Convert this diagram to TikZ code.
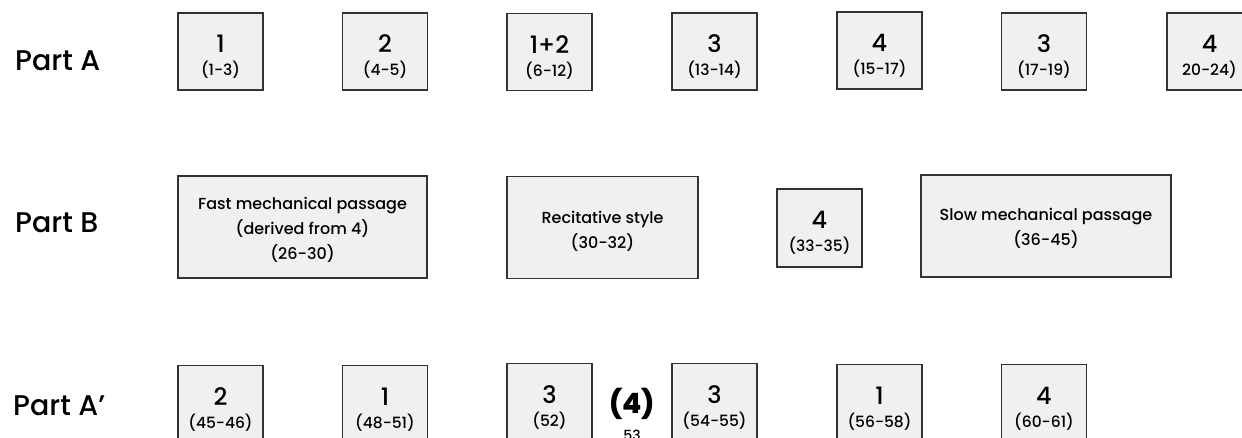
\documentclass[tikz,border=0pt]{standalone}
\usepackage{fontspec}
\IfFontExistsTF{Poppins Medium}{\setmainfont{Poppins Medium}}{\setmainfont{Poppins}}
\definecolor{boxfill}{HTML}{F0F0F0}
\definecolor{boxline}{HTML}{333333}
\tikzset{
  box/.style={draw=boxline, fill=boxfill, line width=1.4pt, rectangle, inner sep=0pt,
    minimum width=85pt, minimum height=77pt,
    font=\fontsize{15.5}{23}\selectfont},
  widebox/.style={box, minimum height=102pt, font=\fontsize{16}{25}\selectfont},
  partlabel/.style={anchor=base west, inner sep=0pt, font=\fontsize{28.5}{30}\selectfont},
}
\newcommand{\nm}[1]{{\fontsize{24}{24}\selectfont #1}}
% text block whose first baseline sits (minus #1) below the node centre
\newcommand{\tb}[2]{\raisebox{#1}[0pt][0pt]{\begin{tabular}[t]{@{}c@{}}#2\end{tabular}}}
\newcommand{\pair}[3][-1.5pt]{\tb{#1}{\nm{#2}\\#3}}
\begin{document}
\begin{tikzpicture}[x=1pt,y=-1pt]
\useasboundingbox (0,0) rectangle (1242,438);
\clip (0,0) rectangle (1242,438);
% labels
\node[partlabel] (pa) at (15,71) {Part A};
\node[partlabel] (pb) at (15,233) {Part B};
\node[partlabel] (pc) at (13,415) {Part A’};
% row A
\node[box] (a1) at (220.5,51.5) {\pair{1}{(1-3)}};
\node[box] (a2) at (385,51.5) {\pair{2}{(4-5)}};
\node[box] (a3) at (549.5,52) {\pair{1+2}{(6-12)}};
\node[box] (a4) at (714.5,51.5) {\pair{3}{(13-14)}};
\node[box] (a5) at (879.5,50.5) {\pair{4}{(15-17)}};
\node[box] (a6) at (1044,51.5) {\pair{3}{(17-19)}};
\node[box] (a7) at (1209.5,51.5) {\pair{4}{20-24)}};
% row B
\node[widebox, minimum width=249pt] (b1) at (302.5,227) {\tb{17pt}{Fast mechanical passage\\(derived from 4)\\(26-30)}};
\node[widebox, minimum width=191pt] (b2) at (602.5,227.5) {\tb{4pt}{Recitative style\\(30-32)}};
\node[box, minimum height=78pt] (b3) at (819.5,228) {\pair[-0.5pt]{4}{(33-35)}};
\node[widebox, minimum width=250pt] (b4) at (1046,226) {\tb{5.5pt}{Slow mechanical passage\\(36-45)}};
% row A'
\node[box] (c1) at (220.5,404) {\pair{2}{(45-46)}};
\node[box] (c2) at (385,404) {\pair{1}{(48-51)}};
\node[box] (c3) at (549.5,402) {\pair{3}{(52)}};
\node[anchor=base, inner sep=0pt, font=\fontsize{28}{28}\selectfont\bfseries] (c4) at (632,413) {(4)};
\node[anchor=base, inner sep=0pt, font=\fontsize{14}{14}\selectfont] (c4n) at (632,440) {53};
\node[box] (c5) at (714.5,402) {\pair{3}{(54-55)}};
\node[box] (c6) at (879.5,403) {\pair{1}{(56-58)}};
\node[box] (c7) at (1044,403) {\pair{4}{(60-61)}};
\end{tikzpicture}
\end{document}
